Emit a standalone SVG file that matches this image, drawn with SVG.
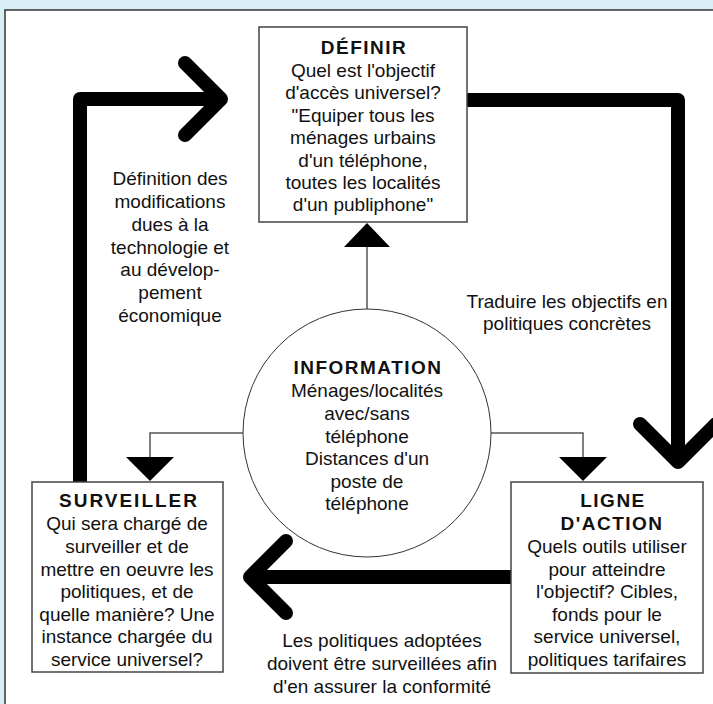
<svg xmlns="http://www.w3.org/2000/svg" width="713" height="704" viewBox="0 0 713 704">
<style>
text{font-family:"Liberation Sans",Arial,sans-serif;font-size:19px;fill:#111;text-anchor:middle}
.t{font-weight:bold;letter-spacing:1.5px}
.box{fill:#fff;stroke:#444;stroke-width:1.5}
.thin{fill:none;stroke:#555;stroke-width:1.5}
.thick{fill:none;stroke:#000;stroke-width:14;stroke-linecap:round;stroke-linejoin:round}
.tri{fill:#000}
</style>
<rect x="0" y="0" width="713" height="704" fill="#d9eff6"/>
<rect x="5" y="10" width="720" height="710" fill="#fff" stroke="#333" stroke-width="1.5"/>
<g id="connectors">
<path class="thick" d="M80,482 V99 H221 M185,63 L221,99 L185,135"/>
<path class="thick" d="M467,100 H678 V462 M640,424 L678,462 L716,424"/>
<path class="thick" d="M511,577 H250 M286,541 L250,577 L286,613"/>
<path class="thin" d="M367,309 V247"/>
<polygon class="tri" points="344,247 390,247 367,223"/>
<path class="thin" d="M243,433 H150 V457"/>
<polygon class="tri" points="126,457 174,457 150,481"/>
<path class="thin" d="M491,433 H583 V457"/>
<polygon class="tri" points="559,457 607,457 583,481"/>
</g>
<g id="label-left">
<text x="170" y="185">Définition des</text>
<text x="170" y="208">modifications</text>
<text x="170" y="231">dues à la</text>
<text x="170" y="254">technologie et</text>
<text x="170" y="276">au dévelop-</text>
<text x="170" y="299">pement</text>
<text x="170" y="322">économique</text>
</g>
<g id="label-right">
<text x="567" y="308">Traduire les objectifs en</text>
<text x="567" y="330">politiques concrètes</text>
</g>
<g id="label-bottom">
<text x="382" y="647">Les politiques adoptées</text>
<text x="382" y="670">doivent être surveillées afin</text>
<text x="382" y="693">d'en assurer la conformité</text>
</g>
<g id="definir">
<rect class="box" x="259" y="27" width="208" height="195"/>
<text class="t" x="364" y="54">DÉFINIR</text>
<text x="363" y="77">Quel est l'objectif</text>
<text x="363" y="99">d'accès universel?</text>
<text x="363" y="122">"Equiper tous les</text>
<text x="363" y="144">ménages urbains</text>
<text x="363" y="167">d'un téléphone,</text>
<text x="363" y="189">toutes les localités</text>
<text x="363" y="211">d'un publiphone"</text>
</g>
<g id="information">
<circle cx="367" cy="433" r="124" fill="#fff" stroke="#333" stroke-width="1"/>
<text class="t" x="368" y="374">INFORMATION</text>
<text x="367" y="397">Ménages/localités</text>
<text x="367" y="420">avec/sans</text>
<text x="367" y="443">téléphone</text>
<text x="367" y="465">Distances d'un</text>
<text x="367" y="488">poste de</text>
<text x="367" y="510">téléphone</text>
</g>
<g id="surveiller">
<rect class="box" x="32" y="482" width="191" height="190"/>
<text class="t" x="129" y="507" style="letter-spacing:2px">SURVEILLER</text>
<text x="127" y="530">Qui sera chargé de</text>
<text x="127" y="553">surveiller et de</text>
<text x="127" y="576">mettre en oeuvre les</text>
<text x="127" y="598">politiques, et de</text>
<text x="127" y="621">quelle manière? Une</text>
<text x="127" y="643">instance chargée du</text>
<text x="127" y="666">service universel?</text>
</g>
<g id="ligne">
<rect class="box" x="511" y="482" width="192" height="191"/>
<text class="t" x="613" y="507">LIGNE</text>
<text class="t" x="612" y="530">D'ACTION</text>
<text x="607" y="553">Quels outils utiliser</text>
<text x="607" y="576">pour atteindre</text>
<text x="607" y="598">l'objectif? Cibles,</text>
<text x="607" y="621">fonds pour le</text>
<text x="607" y="643">service universel,</text>
<text x="607" y="666">politiques tarifaires</text>
</g>
</svg>
